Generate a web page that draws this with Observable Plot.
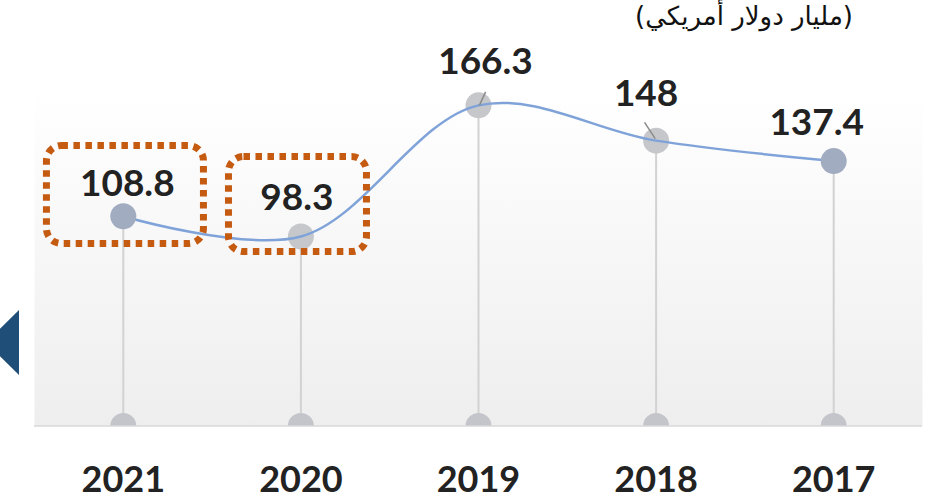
<!DOCTYPE html>
<html>
<head>
<meta charset="utf-8">
<script src="https://cdn.jsdelivr.net/npm/d3@7"></script>
<script src="https://cdn.jsdelivr.net/npm/@observablehq/plot@0.6"></script>
<style>
  html, body { margin: 0; padding: 0; background: #fff; }
  #wrap { position: relative; width: 940px; height: 500px; overflow: hidden; }
  #unit { position: absolute; top: 2px; right: 87px; font-family: "DejaVu Sans", sans-serif; font-size: 26px; font-weight: normal; color: #111; direction: rtl; white-space: nowrap; line-height: 1.15; }
  #tri { position: absolute; left: 0; top: 0; }
</style>
</head>
<body>
<div id="wrap">
  <svg id="tri" width="40" height="500"><polygon points="19,310 19,375 -14,342.5" fill="#1f4e79"/></svg>
  <div id="unit"></div>
</div>
<script>
const years = ["2021", "2020", "2019", "2018", "2017"];
const values = [108.8, 98.3, 166.3, 148, 137.4];
const accentYears = ["2021", "2017"];
const unitLabel = "(مليار دولار أمريكي)";

// label offsets in pixels (layout only)
const labelDx = [4, -4, 7, -10, -17];
const labelDy = [-32, -38, -43, -46, -38];

document.getElementById("unit").textContent = unitLabel;

const data = years.map((year, i) => ({year, i, value: values[i], dx: labelDx[i], dy: labelDy[i]}));

const font = "Lato, 'Open Sans', sans-serif";

const marks = [
  Plot.frame({fill: "url(#bgGrad)", stroke: "none"}),
  Plot.ruleY([0], {stroke: "#d9d9d9", strokeWidth: 1.5}),
  Plot.ruleX(data, {x: "i", y1: 0, y2: "value", stroke: "#d2d2d2", strokeWidth: 2}),
  Plot.dot(data, {x: "i", y: 0, r: 13, fill: "#c4c5ca", stroke: "none", clip: true}),
  Plot.dot(data.filter(d => !accentYears.includes(d.year)), {x: "i", y: "value", r: 13, fill: "#c6c7cb", stroke: "none"}),
  Plot.line(data, {x: "i", y: "value", curve: "catmull-rom", stroke: "#7fa3d9", strokeWidth: 2.5}),
  Plot.dot(data.filter(d => accentYears.includes(d.year)), {x: "i", y: "value", r: 13, fill: "#a2acc0", stroke: "none"}),
  Plot.link(data.filter(d => d.year === "2019"), {x1: d => d.i + 0.005, y1: "value", x2: d => d.i + 0.04, y2: d => d.value + 7, stroke: "#8a8a8a", strokeWidth: 1.5}),
  Plot.link(data.filter(d => d.year === "2018"), {x1: d => d.i - 0.005, y1: d => d.value + 1, x2: d => d.i - 0.065, y2: d => d.value + 9.5, stroke: "#8a8a8a", strokeWidth: 1.5}),
  // highlight boxes around labels
  Plot.rect(data.filter(d => d.year === "2021"), {x1: d => d.i - 0.43, x2: d => d.i + 0.454, y1: d => d.value - 14.4, y2: d => d.value + 36.4, rx: 15, fill: "none", stroke: "#c55a11", strokeWidth: 7, strokeDasharray: "6.5 5.5"}),
  Plot.rect(data.filter(d => d.year === "2020"), {x1: d => d.i - 0.405, x2: d => d.i + 0.372, y1: d => d.value - 8.1, y2: d => d.value + 41.2, rx: 15, fill: "none", stroke: "#c55a11", strokeWidth: 7, strokeDasharray: "6.5 5.5"})
];

// value labels
data.forEach(d => {
  marks.push(Plot.text([d], {x: "i", y: "value", text: d => String(d.value), dx: d.dx, dy: d.dy, fontSize: 37, fontWeight: "bold", fontFamily: font, fill: "#222", lineAnchor: "middle"}));
});
// category labels
marks.push(Plot.text(data, {x: "i", y: 0, text: "year", dy: 54, fontSize: 36, fontWeight: "bold", fontFamily: font, fill: "#222", lineAnchor: "middle"}));

const chart = Plot.plot({
  width: 940,
  height: 500,
  marginLeft: 34,
  marginRight: 18,
  marginTop: 90,
  marginBottom: 74.5,
  x: {type: "linear", domain: [-0.5, 4.5], axis: null},
  y: {domain: [0, 174], axis: null},
  style: {background: "transparent", overflow: "visible"},
  marks
});

const defs = d3.select(chart).insert("defs", ":first-child");
const g = defs.append("linearGradient").attr("id", "bgGrad").attr("x1", 0).attr("y1", 0).attr("x2", 0).attr("y2", 1);
g.append("stop").attr("offset", "0%").attr("stop-color", "#ffffff");
g.append("stop").attr("offset", "100%").attr("stop-color", "#eeeeee");

chart.style.position = "absolute";
chart.style.left = "0";
chart.style.top = "0";
document.getElementById("wrap").insertBefore(chart, document.getElementById("unit"));
</script>
</body>
</html>
